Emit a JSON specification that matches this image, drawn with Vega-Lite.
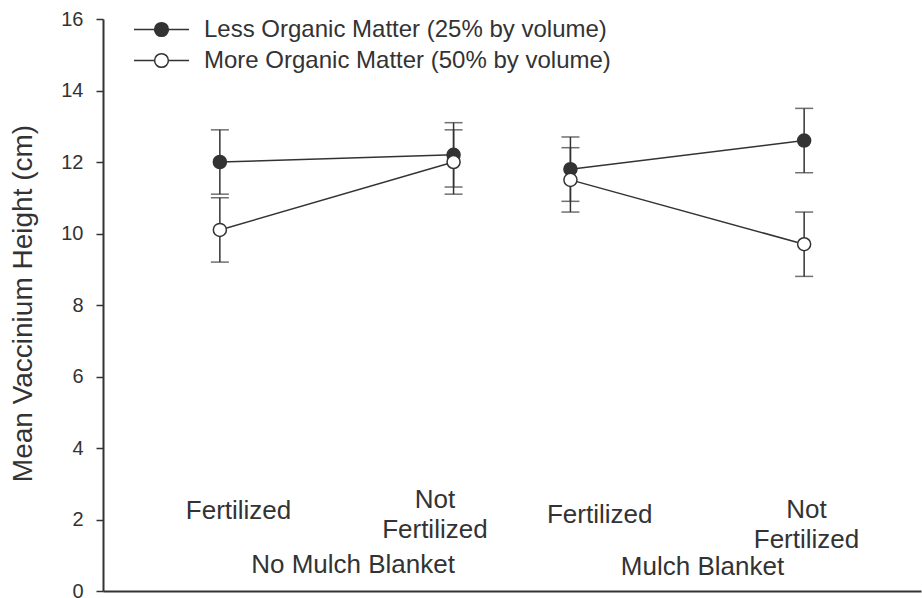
{
  "$schema": "https://vega.github.io/schema/vega-lite/v6.json",
  "width": 818,
  "height": 572,
  "autosize": {"type": "none"},
  "padding": {"left": 103, "top": 19, "right": 1, "bottom": 7},
  "background": "white",
  "config": {
    "view": {"stroke": null},
    "font": "Liberation Sans",
    "text": {"font": "Liberation Sans", "color": "#333333"}
  },
  "datasets": {
    "heights": [
      {"mulch": "No Mulch Blanket", "fert": "Fertilized", "pos": 1, "series": "Less Organic Matter (25% by volume)", "mean": 12.0, "lo": 11.1, "hi": 12.9},
      {"mulch": "No Mulch Blanket", "fert": "Not Fertilized", "pos": 3, "series": "Less Organic Matter (25% by volume)", "mean": 12.2, "lo": 11.3, "hi": 13.1},
      {"mulch": "Mulch Blanket", "fert": "Fertilized", "pos": 4, "series": "Less Organic Matter (25% by volume)", "mean": 11.8, "lo": 10.9, "hi": 12.7},
      {"mulch": "Mulch Blanket", "fert": "Not Fertilized", "pos": 6, "series": "Less Organic Matter (25% by volume)", "mean": 12.6, "lo": 11.7, "hi": 13.5},
      {"mulch": "No Mulch Blanket", "fert": "Fertilized", "pos": 1, "series": "More Organic Matter (50% by volume)", "mean": 10.1, "lo": 9.2, "hi": 11.0},
      {"mulch": "No Mulch Blanket", "fert": "Not Fertilized", "pos": 3, "series": "More Organic Matter (50% by volume)", "mean": 12.0, "lo": 11.1, "hi": 12.9},
      {"mulch": "Mulch Blanket", "fert": "Fertilized", "pos": 4, "series": "More Organic Matter (50% by volume)", "mean": 11.5, "lo": 10.6, "hi": 12.4},
      {"mulch": "Mulch Blanket", "fert": "Not Fertilized", "pos": 6, "series": "More Organic Matter (50% by volume)", "mean": 9.7, "lo": 8.8, "hi": 10.6}
    ],
    "labels": [
      {"label": "Fertilized", "lx": 1.16, "ly": 2.24},
      {"label": "Not\nFertilized", "lx": 2.84, "ly": 2.55},
      {"label": "Fertilized", "lx": 4.25, "ly": 2.13},
      {"label": "Not\nFertilized", "lx": 6.02, "ly": 2.27},
      {"label": "No Mulch Blanket", "lx": 2.14, "ly": 0.73},
      {"label": "Mulch Blanket", "lx": 5.13, "ly": 0.67}
    ]
  },
  "layer": [
    {
      "data": {"name": "heights"},
      "mark": {"type": "rule", "color": "#333333", "strokeWidth": 1.5},
      "encoding": {
        "x": {
          "field": "pos",
          "type": "quantitative",
          "scale": {"domain": [0, 7], "nice": false},
          "axis": {"labels": false, "ticks": false, "grid": false, "title": null, "domainColor": "#333333", "domainWidth": 2}
        },
        "y": {
          "field": "lo",
          "type": "quantitative",
          "scale": {"domain": [0, 16], "nice": false},
          "axis": {
            "title": "Mean Vaccinium Height (cm)",
            "titleFont": "Liberation Sans",
            "titleFontSize": 28,
            "titleFontWeight": "normal",
            "titleColor": "#333333",
            "titleX": -66,
            "titleY": 284,
            "titleAngle": 270,
            "titleAlign": "center",
            "titleBaseline": "bottom",
            "values": [0, 2, 4, 6, 8, 10, 12, 14, 16],
            "grid": false,
            "domainColor": "#333333",
            "domainWidth": 2,
            "tickColor": "#333333",
            "tickWidth": 1.5,
            "tickSize": 7,
            "labelFont": "Liberation Sans",
            "labelFontSize": 20,
            "labelColor": "#333333",
            "labelPadding": 13
          }
        },
        "y2": {"field": "hi"}
      }
    },
    {
      "data": {"name": "heights"},
      "mark": {"type": "tick", "orient": "horizontal", "color": "#333333", "size": 18, "thickness": 1.5},
      "encoding": {
        "x": {"field": "pos", "type": "quantitative"},
        "y": {"field": "lo", "type": "quantitative"}
      }
    },
    {
      "data": {"name": "heights"},
      "mark": {"type": "tick", "orient": "horizontal", "color": "#333333", "size": 18, "thickness": 1.5},
      "encoding": {
        "x": {"field": "pos", "type": "quantitative"},
        "y": {"field": "hi", "type": "quantitative"}
      }
    },
    {
      "data": {"name": "heights"},
      "mark": {"type": "line", "color": "#333333", "strokeWidth": 1.5},
      "encoding": {
        "x": {"field": "pos", "type": "quantitative"},
        "y": {"field": "mean", "type": "quantitative"},
        "detail": [
          {"field": "series", "type": "nominal"},
          {"field": "mulch", "type": "nominal"}
        ]
      }
    },
    {
      "data": {"name": "heights"},
      "mark": {"type": "point", "shape": "circle", "filled": true, "stroke": "#333333", "strokeWidth": 1.5, "size": 170, "opacity": 1},
      "encoding": {
        "x": {"field": "pos", "type": "quantitative"},
        "y": {"field": "mean", "type": "quantitative"},
        "fill": {
          "field": "series",
          "type": "nominal",
          "scale": {
            "domain": ["Less Organic Matter (25% by volume)", "More Organic Matter (50% by volume)"],
            "range": ["#333333", "#ffffff"]
          },
          "legend": {
            "title": null,
            "orient": "none",
            "legendX": 44,
            "legendY": -4,
            "padding": 0,
            "symbolType": "M-2,0H-0.5M0.5,0H2M0.5,0A0.5,0.5,0,1,1,-0.5,0A0.5,0.5,0,1,1,0.5,0Z",
            "symbolSize": 756,
            "symbolStrokeColor": "#333333",
            "symbolStrokeWidth": 1.5,
            "symbolOpacity": 1,
            "labelFont": "Liberation Sans",
            "labelFontSize": 24,
            "labelColor": "#333333",
            "labelOffset": 28,
            "labelLimit": 600,
            "rowPadding": 4
          }
        }
      }
    },
    {
      "data": {"name": "labels"},
      "mark": {"type": "text", "fontSize": 26, "align": "center", "baseline": "middle", "lineBreak": "\n", "lineHeight": 30, "color": "#333333"},
      "encoding": {
        "x": {"field": "lx", "type": "quantitative"},
        "y": {"field": "ly", "type": "quantitative"},
        "text": {"field": "label", "type": "nominal"}
      }
    }
  ]
}
